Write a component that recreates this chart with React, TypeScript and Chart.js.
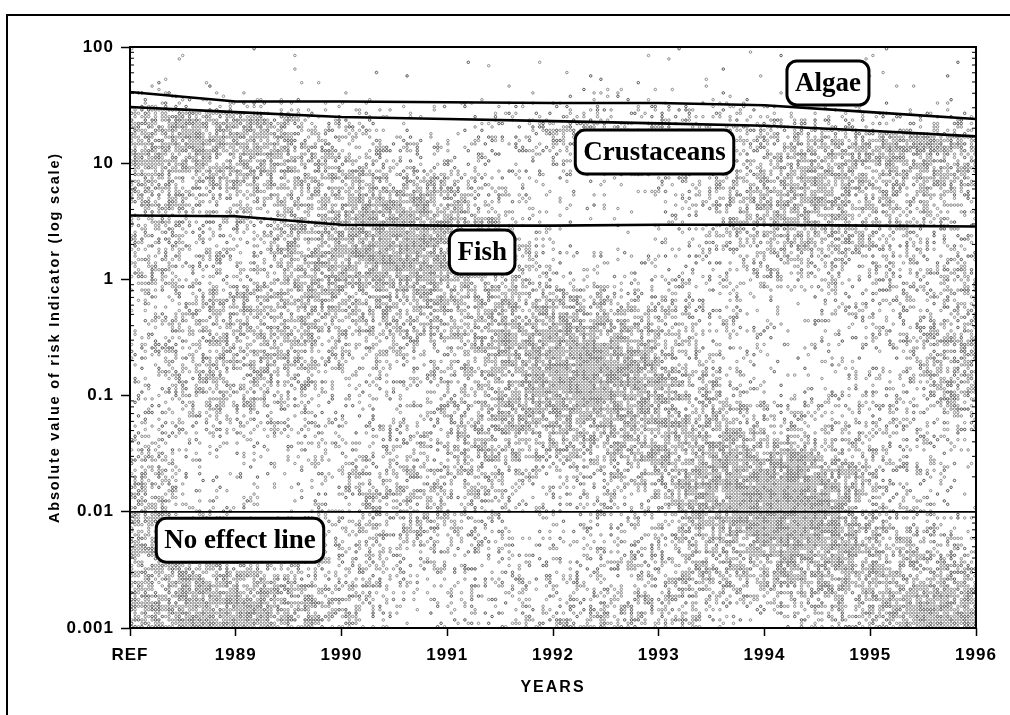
import React, { useEffect, useRef } from 'react';
import { Chart, registerables } from 'chart.js';

Chart.register(...registerables);

// ---- data ----
const categories = ['REF', '1989', '1990', '1991', '1992', '1993', '1994', '1995', '1996'];
const algae = [41, 34, 34, 33.5, 33, 33, 31.5, 27.5, 24];
const crustaceans = [30.5, 27.5, 25, 24, 23, 22, 21, 19, 17];
const fish = [3.55, 3.5, 2.95, 2.9, 2.9, 2.95, 2.95, 2.9, 2.85];
const noEffect = [0.01, 0.01, 0.01, 0.01, 0.01, 0.01, 0.01, 0.01, 0.01];
const yTickValues = [0.001, 0.01, 0.1, 1, 10, 100];
const yTickLabels = ['0.001', '0.01', '0.1', '1', '10', '100'];
const yTitle = 'Absolute value of risk Indicator (log scale)';
const xTitle = 'YEARS';

// label boxes anchored in data space (category index, value)
const annotations = [
  { text: 'Algae', x: 6.6, y: 49 },
  { text: 'Crustaceans', x: 4.96, y: 12.5 },
  { text: 'Fish', x: 3.33, y: 1.72 },
  { text: 'No effect line', x: 1.04, y: 0.0057 },
];

const SANS = '"Liberation Sans", Arial, sans-serif';
const SERIF = '"Liberation Serif", "Times New Roman", serif';

function hash(a: number, b: number) {
  const s = Math.sin(a * 127.1 + b * 311.7) * 43758.5453;
  return s - Math.floor(s);
}
function blotch(x: number, y: number) {
  const b =
    0.5 +
    0.32 * Math.sin(x / 58 + 0.7) * Math.cos(y / 44 + 1.1) +
    0.25 * Math.sin((x * 0.6 - y) / 70 + 2.3);
  return Math.max(0, Math.min(1, b));
}
function yAt(pts: any[], x: number) {
  if (!pts.length) return 0;
  if (x <= pts[0].x) return pts[0].y;
  for (let i = 1; i < pts.length; i++) {
    if (x <= pts[i].x) {
      const p = pts[i - 1], q = pts[i];
      return p.y + ((q.y - p.y) * (x - p.x)) / (q.x - p.x);
    }
  }
  return pts[pts.length - 1].y;
}

const texturePlugin = {
  id: 'texture',
  beforeDatasetsDraw(chart: any) {
    const { ctx, chartArea: a } = chart;
    const ptsA = chart.getDatasetMeta(0).data;
    const ptsC = chart.getDatasetMeta(1).data;
    ctx.save();
    ctx.beginPath();
    ctx.rect(a.left, a.top, a.right - a.left, a.bottom - a.top);
    ctx.clip();
    const step = 3.4;
    const grey = new Path2D();
    const dark = new Path2D();
    for (let ix = 0; a.left + ix * step < a.right; ix++) {
      const x = a.left + ix * step + 1.7;
      const ya = yAt(ptsA, x);
      const yc = yAt(ptsC, x);
      for (let iy = 0; a.top + iy * step < a.bottom; iy++) {
        const y = a.top + iy * step + 1.7;
        const b = blotch(x, y);
        let d: number;
        if (y < ya) d = 0.01 + 0.14 * Math.max(0, 1 - (ya - y) / 22) * b;
        else if (y < yc) d = 0.08 + 0.22 * b;
        else d = 0.06 + 0.9 * Math.pow(b, 1.3);
        if (hash(ix, iy) < d) {
          const p = hash(iy + 3.1, ix + 7.7) < 0.35 ? dark : grey;
          p.moveTo(x + 1.25, y);
          p.arc(x, y, 1.25, 0, Math.PI * 2);
        }
      }
    }
    ctx.lineWidth = 0.85;
    ctx.strokeStyle = '#7c7c7c';
    ctx.stroke(grey);
    ctx.strokeStyle = '#3c3c3c';
    ctx.stroke(dark);
    ctx.restore();
  },
};

const decorPlugin = {
  id: 'decor',
  beforeDraw(chart: any) {
    chart.ctx.letterSpacing = '1px';
  },
  afterDraw(chart: any) {
    const { ctx, chartArea: a, scales } = chart;
    ctx.save();
    // chart area frame
    ctx.strokeStyle = '#000';
    ctx.lineWidth = 2;
    ctx.strokeRect(a.left, a.top, a.right - a.left, a.bottom - a.top);
    // minor log ticks (inward)
    ctx.lineWidth = 1;
    ctx.beginPath();
    for (let d = -3; d <= 1; d++) {
      for (let k = 2; k <= 9; k++) {
        const y = scales.y.getPixelForValue(k * Math.pow(10, d));
        ctx.moveTo(a.left, y);
        ctx.lineTo(a.left + 4, y);
        ctx.moveTo(a.right, y);
        ctx.lineTo(a.right - 4, y);
      }
    }
    ctx.stroke();
    // outer frame
    ctx.lineWidth = 2;
    ctx.beginPath();
    ctx.moveTo(7, 715);
    ctx.lineTo(7, 15);
    ctx.lineTo(1010, 15);
    ctx.stroke();
    // axis titles
    ctx.fillStyle = '#000';
    ctx.textAlign = 'center';
    ctx.textBaseline = 'middle';
    ctx.letterSpacing = '1.8px';
    ctx.font = `bold 14.5px ${SANS}`;
    ctx.save();
    ctx.translate(55, (a.top + a.bottom) / 2);
    ctx.rotate(-Math.PI / 2);
    ctx.fillText(yTitle, 0, 0);
    ctx.restore();
    ctx.letterSpacing = '2px';
    ctx.font = `bold 16px ${SANS}`;
    ctx.fillText(xTitle, (a.left + a.right) / 2, 688);
    // label boxes
    ctx.letterSpacing = '0px';
    ctx.font = `bold 27px ${SERIF}`;
    for (const an of annotations) {
      const cx = scales.x.getPixelForValue(an.x);
      const cy = scales.y.getPixelForValue(an.y);
      const tw = ctx.measureText(an.text).width;
      const w = tw + 16;
      const h = 44;
      ctx.beginPath();
      ctx.roundRect(cx - w / 2, cy - h / 2, w, h, 10);
      ctx.fillStyle = '#fff';
      ctx.fill();
      ctx.lineWidth = 3;
      ctx.strokeStyle = '#000';
      ctx.stroke();
      ctx.fillStyle = '#000';
      ctx.fillText(an.text, cx, cy + 1);
    }
    ctx.restore();
  },
};

export default function App() {
  const ref = useRef<HTMLCanvasElement | null>(null);
  useEffect(() => {
    if (!ref.current) return;
    const lineDs = (data: number[], w: number) => ({
      data,
      borderColor: '#000',
      borderWidth: w,
      pointRadius: 0,
      fill: false,
      tension: 0,
    });
    const chart = new Chart(ref.current, {
      type: 'line',
      data: {
        labels: categories,
        datasets: [
          { label: 'Algae', ...lineDs(algae, 2.6) },
          { label: 'Crustaceans', ...lineDs(crustaceans, 2.6) },
          { label: 'Fish', ...lineDs(fish, 2.6) },
          { label: 'No effect line', ...lineDs(noEffect, 1.8) },
        ],
      },
      options: {
        animation: false,
        responsive: false,
        layout: { padding: { left: 20, right: 34, top: 47, bottom: 0 } },
        plugins: { legend: { display: false }, tooltip: { enabled: false } },
        scales: {
          x: {
            type: 'category',
            offset: false,
            ticks: {
              font: { family: SANS, size: 17, weight: 'bold' },
              color: '#000',
              padding: 9,
              maxRotation: 0,
              autoSkip: false,
            },
            grid: { drawOnChartArea: false, tickLength: 8, tickColor: '#000', tickWidth: 1.5 },
            border: { display: false },
            afterFit: (s: any) => {
              s.height = 87;
            },
          },
          y: {
            type: 'logarithmic',
            min: 0.001,
            max: 100,
            afterBuildTicks: (s: any) => {
              s.ticks = yTickValues.map((v) => ({ value: v, major: true }));
            },
            ticks: {
              callback: (_v: any, i: number) => yTickLabels[i],
              font: { family: SANS, size: 17, weight: 'bold' },
              color: '#000',
              padding: 7,
              autoSkip: false,
            },
            grid: { drawOnChartArea: false, tickLength: 9, tickColor: '#000', tickWidth: 1.5 },
            border: { display: false },
            afterFit: (s: any) => {
              s.width = 110;
            },
          },
        },
      } as any,
      plugins: [texturePlugin, decorPlugin],
    });
    return () => chart.destroy();
  }, []);
  return (
    <div style={{ position: 'fixed', left: 0, top: 0, width: 1010, height: 715, background: '#fff' }}>
      <canvas ref={ref} width={1010} height={715} style={{ display: 'block' }} />
    </div>
  );
}
